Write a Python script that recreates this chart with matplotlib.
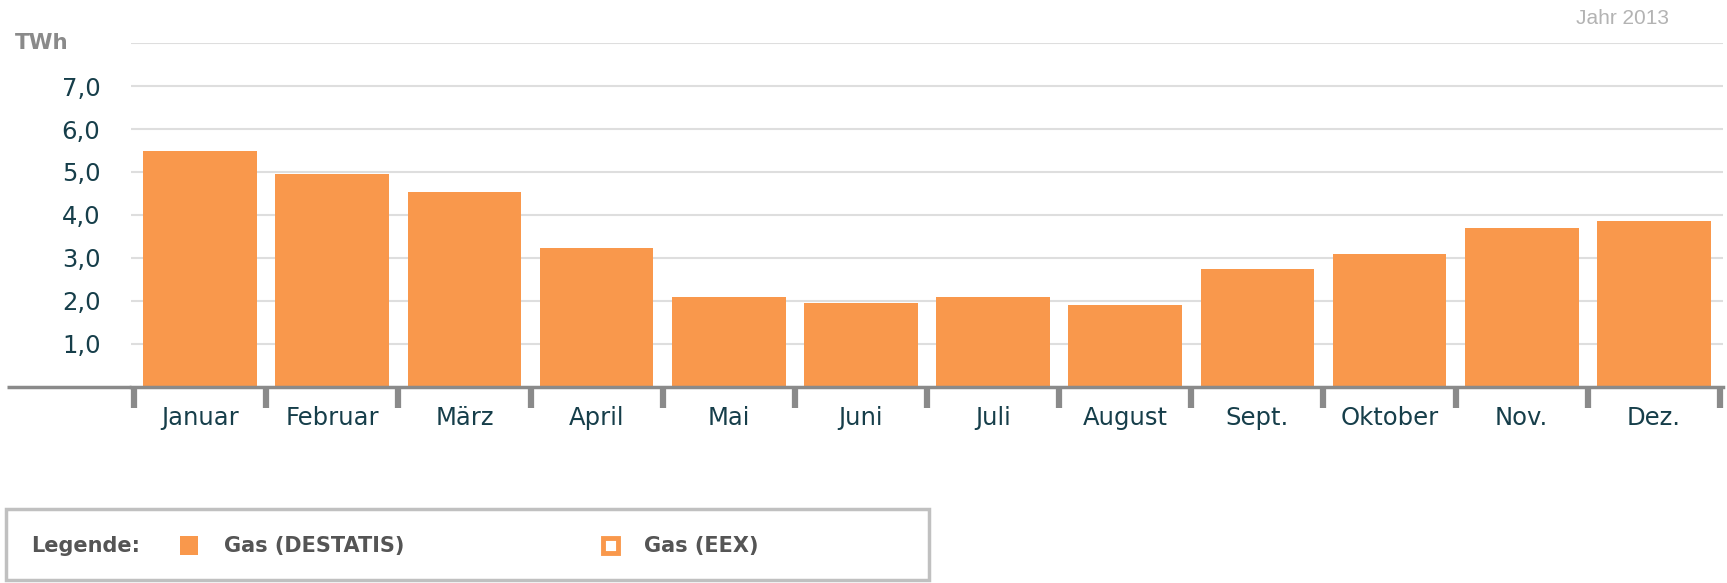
import matplotlib
matplotlib.use('Agg')
import matplotlib.pyplot as plt
from matplotlib.patches import Rectangle
import numpy as np

months = ['Januar', 'Februar', 'März', 'April', 'Mai', 'Juni', 'Juli',
          'August', 'Sept.', 'Oktober', 'Nov.', 'Dez.']
gas_destatis = [5.49, 4.95, 4.54, 3.23, 2.08, 1.95, 2.08, 1.90, 2.75, 3.10, 3.69, 3.86]
yticks = [1, 2, 3, 4, 5, 6, 7]
ylabels = ['1,0', '2,0', '3,0', '4,0', '5,0', '6,0', '7,0']

orange = '#F9984C'
text_col = '#163e4a'
axis_grey = '#8a8a8a'

W, H = 1727, 583
fig = plt.figure(figsize=(W/100, H/100), dpi=100)
ax = fig.add_axes([131/W, 1 - 386.5/H, 1592/W, 343.2/H])

x = np.arange(len(months))
ax.bar(x, gas_destatis, width=0.86, color=orange, lw=0, zorder=2)

ax.set_ylim(0, 8)
ax.set_xlim(-0.523, 11.523)

# gridlines
for v in range(1, 9):
    ax.axhline(v, color='#dedede', lw=1.5, zorder=1)

for s in ['top', 'right', 'left']:
    ax.spines[s].set_visible(False)
ax.spines['bottom'].set_color(axis_grey)
ax.spines['bottom'].set_linewidth(2.5)
ax.spines['bottom'].set_zorder(3)
# bottom axis line extends to the left under the y labels
ax.plot([-124/1592, 0], [0, 0], transform=ax.transAxes, color=axis_grey,
        lw=2.5, clip_on=False, solid_capstyle='butt')

ax.set_yticks(yticks)
ax.set_yticklabels(ylabels)
ax.tick_params(axis='y', length=0, pad=22, labelsize=17.5, labelcolor=text_col)

ax.set_xticks(np.arange(-0.5, 12, 1))
ax.set_xticklabels([])
ax.tick_params(axis='x', which='major', length=15, width=4.5, color=axis_grey)
ax.set_xticks(x, minor=True)
ax.set_xticklabels(months, minor=True)
ax.tick_params(axis='x', which='minor', length=0, pad=14, labelsize=17.5, labelcolor=text_col)

fig.text(15/W, 1 - 43/H, 'TWh', fontsize=15.5, fontweight='bold', color='#8a8a8a', va='center', ha='left')
fig.text(1669/W, 1 - 18/H, 'Jahr 2013', fontsize=15, family='Liberation Sans',
         color='#b3b3b3', va='center', ha='right')

# legend box
fig.patches.append(Rectangle((5.5/W, 3/H), 923/W, 71/H, transform=fig.transFigure,
                             facecolor='none', edgecolor='#c0c0c0', lw=2.5))
ly = 1 - 546/H
lkw = dict(fontsize=15, fontweight='bold', color='#555555', va='center')
fig.text(31/W, ly, 'Legende:', **lkw)
fig.patches.append(Rectangle((180/W, 1 - 555/H), 18/W, 19/H, transform=fig.transFigure,
                             facecolor=orange, edgecolor='none'))
fig.text(224/W, ly, 'Gas (DESTATIS)', **lkw)
fig.patches.append(Rectangle((603/W, 1 - 553/H), 15/W, 15/H, transform=fig.transFigure,
                             facecolor='white', edgecolor=orange, lw=3.5))
fig.text(644/W, ly, 'Gas (EEX)', **lkw)

fig.savefig('out.png', dpi=100)
